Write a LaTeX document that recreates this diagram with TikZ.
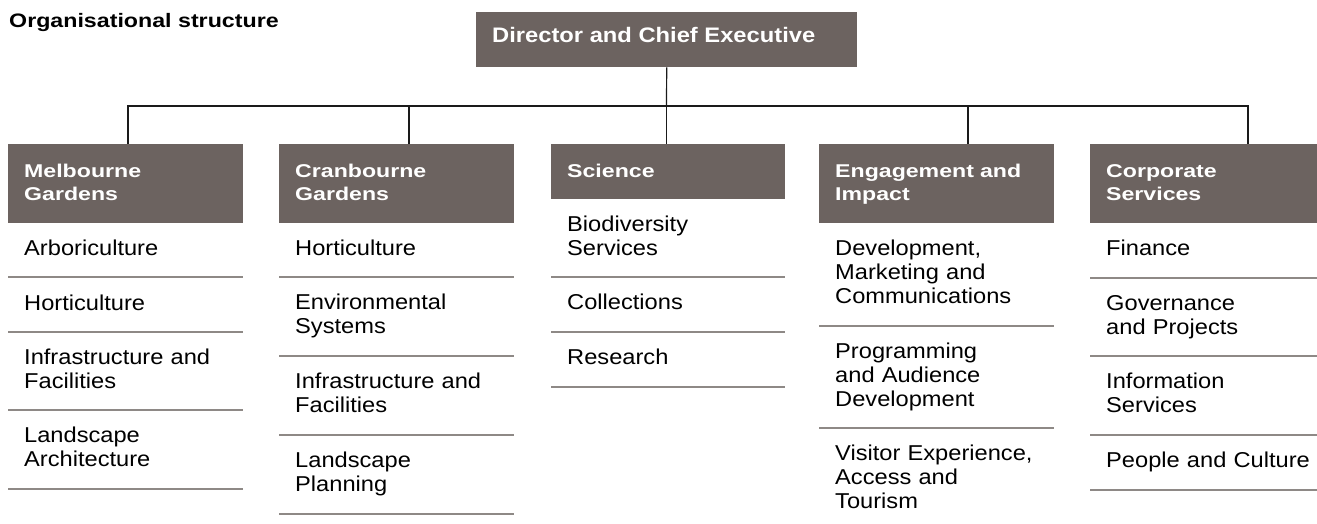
\documentclass[tikz,border=0pt]{standalone}
\usepackage{fontspec}
\setmainfont{Liberation Sans}
\newfontfamily\itemfamily[FakeStretch=1.10]{Liberation Sans}
\newfontfamily\headfamily[FakeStretch=1.25]{Liberation Sans}
\newfontfamily\dirfamily[FakeStretch=1.13]{Liberation Sans}
\newfontfamily\titlefamily[FakeStretch=1.19]{Liberation Sans}
\definecolor{boxfill}{HTML}{6C6360}
\definecolor{sepgrey}{HTML}{8E8986}
\definecolor{conngrey}{HTML}{1A1A1A}
\tikzset{
  hbox/.style={fill=boxfill, draw=none, inner sep=0pt, anchor=north west},
  htext/.style={text=white, inner sep=0pt, anchor=base west, align=left,
    font={\headfamily\bfseries\fontsize{18.5}{24}\selectfont}},
  itext/.style={text=black, inner sep=0pt, anchor=base west, align=left,
    font={\itemfamily\fontsize{21.5}{24}\selectfont}},
  sepline/.style={draw=sepgrey, line width=1.7pt},
  conn/.style={draw=conngrey, line width=1.2pt},
}
\begin{document}
\begin{tikzpicture}[x=1pt,y=-1pt]
\useasboundingbox (0,0) rectangle (1317,524);
% title
\node[inner sep=0pt, anchor=base west, font={\titlefamily\bfseries\fontsize{19.5}{24}\selectfont}] (title) at (9,28) {Organisational structure};
% director
\node[hbox, minimum width=381pt, minimum height=55pt] (dir) at (476,12) {};
\node[inner sep=0pt, anchor=base west, text=white, font={\dirfamily\bfseries\fontsize{21}{24}\selectfont}] (dirt) at (492,43) {Director and Chief Executive};
% column headers
\node[hbox, minimum width=235pt, minimum height=79pt] (mg) at (8,144) {};
\node[hbox, minimum width=235pt, minimum height=79pt] (cg) at (279,144) {};
\node[hbox, minimum width=234pt, minimum height=55pt] (sc) at (551,144) {};
\node[hbox, minimum width=235pt, minimum height=79pt] (ei) at (819,144) {};
\node[hbox, minimum width=227pt, minimum height=79pt] (cs) at (1090,144) {};
\node[htext, text width=215pt] (mgt) at (24,177) {Melbourne\\Gardens};
\node[htext, text width=215pt] (cgt) at (295,177) {Cranbourne\\Gardens};
\node[htext, text width=215pt] (sct) at (567,177) {Science};
\node[htext, text width=215pt] (eit) at (835,177) {Engagement and\\Impact};
\node[htext, text width=205pt] (cst) at (1106,177) {Corporate\\Services};
% connectors
\coordinate (bus) at (666.5,106);
\coordinate (mgtop) at (128,144);
\coordinate (cgtop) at (409,144);
\coordinate (sctop) at (666.5,144);
\coordinate (eitop) at (968,144);
\coordinate (cstop) at (1248,144);
\draw[conn] (dir.south) -- (bus);
\draw[conn] (mgtop) |- (bus) -| (cstop);
\draw[conn] (cgtop) -- (cgtop |- bus);
\draw[conn] (sctop) -- (sctop |- bus);
\draw[conn] (eitop) -- (eitop |- bus);
% column 1 items
\node[itext, text width=215pt] (mg1) at (24,255) {Arboriculture};
\node[itext, text width=215pt] (mg2) at (24,310) {Horticulture};
\node[itext, text width=215pt] (mg3) at (24,364) {Infrastructure and\\Facilities};
\node[itext, text width=215pt] (mg4) at (24,442) {Landscape\\Architecture};
\foreach \y in {277,332,410,489} \draw[sepline] (8,\y) -- (243,\y);
% column 2 items
\node[itext, text width=215pt] (cg1) at (295,255) {Horticulture};
\node[itext, text width=215pt] (cg2) at (295,309) {Environmental\\Systems};
\node[itext, text width=215pt] (cg3) at (295,388) {Infrastructure and\\Facilities};
\node[itext, text width=215pt] (cg4) at (295,467) {Landscape\\Planning};
\foreach \y in {277,356,435,514} \draw[sepline] (279,\y) -- (514,\y);
% column 3 items
\node[itext, text width=215pt] (sc1) at (567,231) {Biodiversity\\Services};
\node[itext, text width=215pt] (sc2) at (567,309) {Collections};
\node[itext, text width=215pt] (sc3) at (567,364) {Research};
\foreach \y in {277,332,387} \draw[sepline] (551,\y) -- (785,\y);
% column 4 items
\node[itext, text width=215pt] (ei1) at (835,255) {Development,\\Marketing and\\Communications};
\node[itext, text width=215pt] (ei2) at (835,358) {Programming\\and Audience\\Development};
\node[itext, text width=215pt] (ei3) at (835,460) {Visitor Experience,\\Access and\\Tourism};
\foreach \y in {326,428} \draw[sepline] (819,\y) -- (1054,\y);
% column 5 items
\node[itext, text width=205pt] (cs1) at (1106,255) {Finance};
\node[itext, text width=205pt] (cs2) at (1106,310) {Governance\\and Projects};
\node[itext, text width=205pt] (cs3) at (1106,388) {Information\\Services};
\node[itext, text width=205pt] (cs4) at (1106,467) {People and Culture};
\foreach \y in {278,356,435,490} \draw[sepline] (1090,\y) -- (1317,\y);
\end{tikzpicture}
\end{document}
